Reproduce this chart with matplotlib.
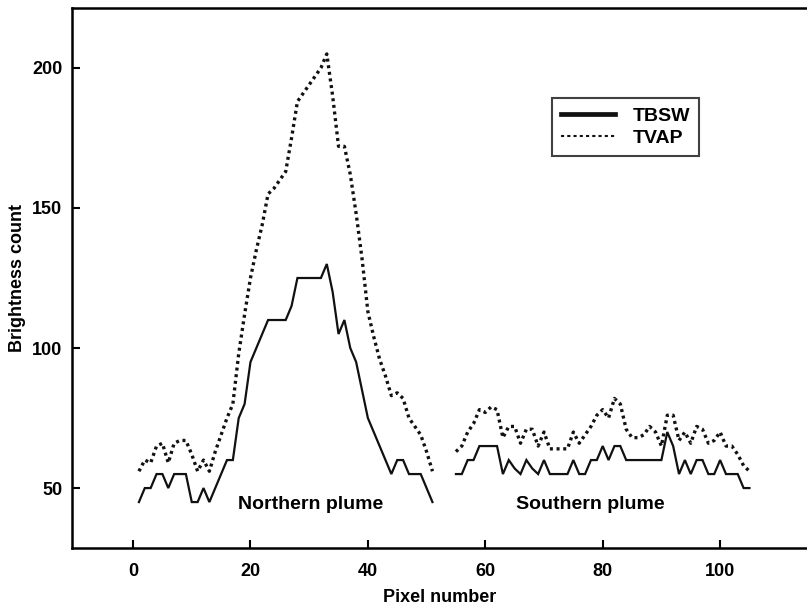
import matplotlib
matplotlib.use("Agg")
import matplotlib.pyplot as plt
from matplotlib.lines import Line2D

plt.rcParams['font.family'] = ['Liberation Sans', 'DejaVu Sans']
plt.rcParams['font.weight'] = 'bold'

# Northern plume (pixels 1..51)
x_north = list(range(1, 52))
tbsw_north = [45, 50, 50, 55, 55, 50, 55, 55, 55, 45,
              45, 50, 45, 50, 55, 60, 60, 75, 80, 95,
              100, 105, 110, 110, 110, 110, 115, 125, 125, 125,
              125, 125, 130, 120, 105, 110, 100, 95, 85, 75,
              70, 65, 60, 55, 60, 60, 55, 55, 55, 50,
              45]
tvap_north = [56, 60, 59, 65, 66, 59, 66, 67, 67, 62,
              56, 60, 56, 63, 69, 75, 80, 98, 112, 125,
              135, 144, 155, 157, 160, 163, 175, 188, 191, 194,
              197, 200, 205, 190, 172, 172, 162, 148, 132, 113,
              104, 96, 90, 83, 84, 82, 75, 72, 69, 63,
              56]

# Southern plume (pixels 55..105)
x_south = list(range(55, 106))
tbsw_south = [55, 55, 60, 60, 65, 65, 65, 65, 55, 60,
              57, 55, 60, 57, 55, 60, 55, 55, 55, 55,
              60, 55, 55, 60, 60, 65, 60, 65, 65, 60,
              60, 60, 60, 60, 60, 60, 70, 65, 55, 60,
              55, 60, 60, 55, 55, 60, 55, 55, 55, 50,
              50]
tvap_south = [63, 65, 70, 73, 78, 77, 79, 78, 68, 72,
              72, 66, 71, 71, 65, 70, 64, 64, 64, 64,
              70, 66, 69, 72, 76, 78, 75, 82, 80, 71,
              68, 68, 69, 72, 70, 65, 76, 76, 67, 70,
              66, 72, 71, 66, 67, 70, 65, 65, 62, 58,
              56]

x_ticks = [0, 20, 40, 60, 80, 100]
y_ticks = [50, 100, 150, 200]
legend_labels = ["TBSW", "TVAP"]
region_labels = ["Northern plume", "Southern plume"]

fig = plt.figure(figsize=(8.07, 6.06), dpi=100)
ax = fig.add_axes([72/807, 58/606, 1 - 72/807, 540/606])

ink = "#111111"
solid_kw = dict(color=ink, lw=1.6, solid_joinstyle='miter')
dot_kw = dict(color=ink, lw=2.4, linestyle=(0, (0.9, 1.1)), dash_capstyle='butt')

ax.plot(x_north, tbsw_north, **solid_kw)
ax.plot(x_south, tbsw_south, **solid_kw)
ax.plot(x_north, tvap_north, **dot_kw)
ax.plot(x_south, tvap_south, **dot_kw)

ax.set_xlim(-10.4, 114.8)
ax.set_ylim(28.6, 221.4)
ax.set_xticks(x_ticks)
ax.set_yticks(y_ticks)
ax.tick_params(direction='in', length=6, width=1.5, labelsize=13)
ax.tick_params(axis='x', pad=11)
ax.tick_params(axis='y', pad=7)
for lab in ax.get_xticklabels() + ax.get_yticklabels():
    lab.set_fontweight('bold')
for s in ['left', 'bottom', 'top']:
    ax.spines[s].set_linewidth(1.8)
ax.spines['right'].set_visible(False)

ax.set_xlabel("Pixel number", fontsize=13, fontweight='bold', labelpad=6)
ax.set_ylabel("Brightness count", fontsize=13, fontweight='bold')
ax.yaxis.set_label_coords(-0.062, 0.5)

ax.text(30.2, 44, region_labels[0], fontsize=14, fontweight='bold',
        ha='center', va='center')
ax.text(77.9, 44, region_labels[1], fontsize=14, fontweight='bold',
        ha='center', va='center')

handles = [Line2D([], [], color=ink, lw=3.4),
           Line2D([], [], color=ink, lw=1.5, linestyle=(0, (1.5, 1.5)))]
leg = ax.legend(handles, legend_labels, loc='upper left',
                bbox_to_anchor=(0.653, 0.833), borderaxespad=0,
                frameon=True, fancybox=False, edgecolor=ink,
                prop={'size': 14, 'weight': 'bold'}, handlelength=2.8,
                handletextpad=0.9, borderpad=0.45, labelspacing=0.25)
leg.get_frame().set_linewidth(1.5)

fig.savefig("out.png", dpi=100)
